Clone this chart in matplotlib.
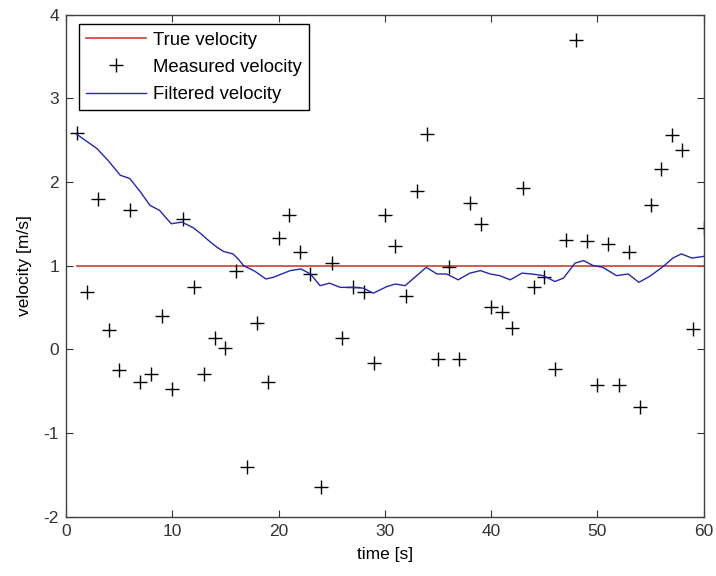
import matplotlib.pyplot as plt
import numpy as np

plt.rcParams['font.family'] = ['Liberation Sans', 'DejaVu Sans']
plt.rcParams['axes.unicode_minus'] = False

# measured velocity, one sample per second
t_meas = np.arange(1, 61)
v_meas = [2.58, 0.68, 1.80, 0.23, -0.25, 1.67, -0.39, -0.30, 0.40, -0.48,
          1.56, 0.74, -0.29, 0.13, 0.01, 0.93, -1.41, 0.31, -0.39, 1.33,
          1.61, 1.16, 0.90, -1.64, 1.03, 0.14, 0.74, 0.68, -0.16, 1.60,
          1.24, 0.64, 1.89, 2.57, -0.12, 0.98, -0.12, 1.75, 1.50, 0.50,
          0.45, 0.26, 1.93, 0.75, 0.86, -0.23, 1.31, 3.70, 1.29, -0.43,
          1.26, -0.43, 1.16, -0.69, 1.72, 2.15, 2.56, 2.38, 0.24, 1.45]

# filtered velocity
t_filt = [1, 2, 2.9, 4, 5.1, 6, 7, 7.9, 8.8, 9.9, 10.9, 12, 12.7, 13.5, 14.2,
          14.8, 15.7, 16.2, 16.7, 17.8, 18.8, 19.5, 20.1, 21.1, 22.1, 23, 23.9,
          24.8, 25.8, 27, 28, 28.9, 30.2, 31, 31.9, 33, 33.9, 34.9, 35.8, 36.9,
          38, 39, 39.9, 40.8, 41.8, 42.9, 43.8, 44.9, 46, 46.8, 47.9, 48.7,
          49.6, 50.5, 51.8, 52.9, 53.9, 54.9, 56.2, 57.1, 57.9, 58.9, 60]
v_filt = [2.57, 2.48, 2.40, 2.25, 2.08, 2.04, 1.88, 1.72, 1.66, 1.50, 1.52, 1.45,
          1.38, 1.29, 1.22, 1.17, 1.14, 1.08, 1.00, 0.93, 0.84, 0.86, 0.89, 0.94,
          0.96, 0.90, 0.76, 0.79, 0.74, 0.74, 0.73, 0.67, 0.75, 0.78, 0.76, 0.88,
          0.98, 0.90, 0.90, 0.83, 0.91, 0.94, 0.90, 0.88, 0.83, 0.91, 0.90, 0.88,
          0.81, 0.85, 1.03, 1.06, 1.00, 0.98, 0.88, 0.90, 0.80, 0.87, 0.99, 1.09,
          1.14, 1.09, 1.11]

true_v = 1.0

fig = plt.figure(figsize=(7.16, 5.76), dpi=100)
ax = fig.add_axes([0.0922, 0.1030, 0.8906, 0.8718])

ax.plot([t_meas[0], t_meas[-1]], [true_v, true_v], color='#d43a3a', lw=1.2, label='True velocity')
ax.plot(t_meas, v_meas, '+', color='black', ms=10, mew=1.0, label='Measured velocity')
ax.plot(t_filt, v_filt, color='#2525b8', lw=1.0, label='Filtered velocity')

ax.set_xlim(0, 60)
ax.set_ylim(-2, 4)
ax.set_xticks(range(0, 61, 10))
ax.set_yticks(range(-2, 5))
ax.tick_params(direction='in', top=True, right=True, length=5, labelsize=12.5,
               colors='#333333', pad=5)
for s in ax.spines.values():
    s.set_color('#404040')
    s.set_linewidth(1.0)

ax.set_xlabel('time [s]', fontsize=12.5, labelpad=6)
ax.set_ylabel('velocity [m/s]', fontsize=12.5, labelpad=8)

leg = ax.legend(loc='upper left', bbox_to_anchor=(0.0204, 0.9805), borderaxespad=0,
                fontsize=13.3, fancybox=False, framealpha=1, edgecolor='black',
                handlelength=3.2, handletextpad=0.4, labelspacing=0.55, borderpad=0.4)
leg.get_frame().set_linewidth(1.0)

fig.savefig('out.png', dpi=100)
